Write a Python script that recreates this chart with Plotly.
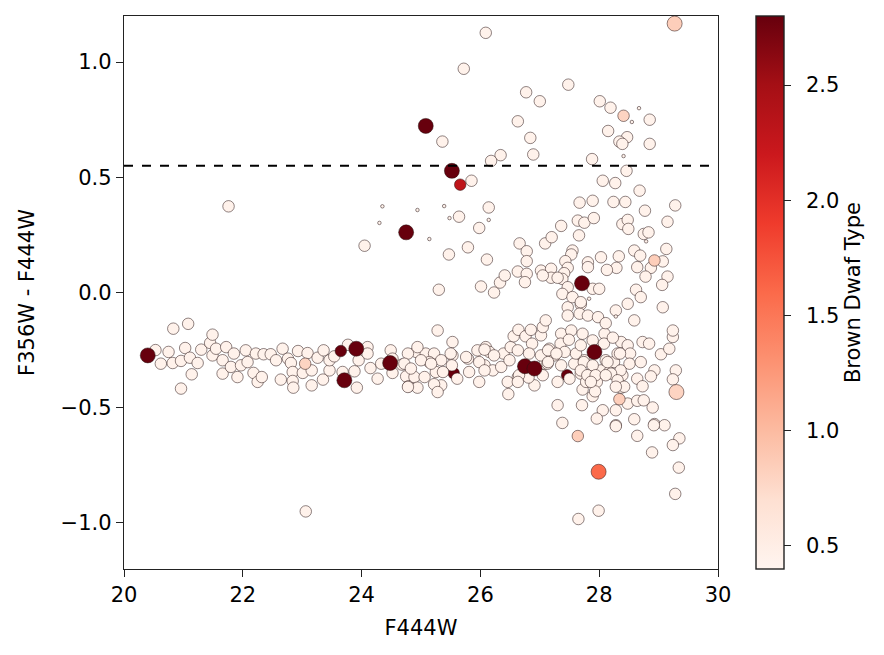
import plotly.graph_objects as go

# ordinary (pale) sources: F444W, F356W - F444W
pale_x = [
    20.83, 21.08, 20.53, 20.62, 20.75, 20.82, 20.96, 20.96, 21.03, 21.11, 21.14, 21.24, 21.30, 21.45,
    21.49, 21.49, 21.55, 21.66, 21.66, 21.72, 21.80, 21.85, 21.91, 21.97, 22.05, 22.08, 22.18, 22.25,
    22.32, 22.22, 22.35, 22.47, 22.56, 22.67, 22.64, 22.76, 22.81, 22.84, 22.84, 22.85, 22.93, 23.09,
    23.01, 23.16, 23.16, 23.26, 23.35, 23.36, 23.46, 23.46, 23.54, 23.77, 23.68, 23.88, 23.95, 23.92,
    24.10, 24.10, 24.15, 24.27, 24.33, 24.49, 24.52, 24.52, 24.68, 24.75, 24.79, 24.89, 24.92, 24.94,
    25.28, 25.53, 25.08, 25.22, 25.14, 25.34, 25.25, 25.06, 25.34, 25.53, 25.52, 25.61, 25.79, 25.81,
    25.95, 25.98, 26.07, 26.09, 26.15, 26.21, 26.35, 26.39, 26.49, 26.51, 26.56, 26.64, 26.63, 26.63,
    26.76, 26.85, 26.87, 26.82, 27.05, 26.91, 26.81, 26.47, 27.02, 27.05, 27.10, 27.08, 27.16, 27.25,
    27.36, 27.35, 27.42, 27.50, 27.53, 27.58, 27.61, 27.49, 27.72, 27.69, 27.75, 27.69, 27.72, 27.78,
    27.89, 27.89, 27.89, 27.96, 28.03, 28.09, 28.08, 28.11, 28.17, 28.25, 28.31, 28.37, 28.39, 28.37,
    28.48, 28.52, 28.51, 28.48, 28.64, 28.64, 28.59, 28.70, 28.73, 28.75, 28.73, 28.84, 28.93, 28.87,
    28.90, 29.04, 29.18, 29.24, 29.24, 29.29, 29.24, 29.07, 28.48, 28.28, 27.47, 27.47, 27.69, 27.67,
    27.81, 27.98, 28.11, 27.30, 27.38, 27.71, 28.06, 27.96, 28.28, 28.59, 28.28, 28.93, 29.10,
    24.94, 24.78, 25.00, 24.72, 24.83, 25.17, 25.37, 24.78, 25.22, 25.28, 25.50, 25.76, 26.07, 25.98,
    26.07, 26.23, 26.65, 26.46, 26.63, 27.02, 27.13, 27.30,
    27.14, 27.28, 28.23, 28.35, 27.14, 27.36, 27.74, 27.89, 28.14, 28.36, 28.20, 27.69, 27.80, 27.94,
    28.11, 28.31, 28.42, 27.93, 28.28, 27.86,
    25.85, 26.14, 25.64, 25.98, 25.47, 25.79, 26.11, 25.30, 26.01, 26.23, 26.33, 26.41, 26.63, 26.66,
    26.78, 26.78, 26.78, 26.75, 27.02, 27.09, 27.20, 27.36, 27.66, 27.64, 27.75, 27.91, 27.67, 27.89,
    28.06, 28.27, 28.46, 28.68, 28.24, 28.44, 28.77, 29.28, 29.15, 28.39, 28.48, 28.49, 28.75, 28.83,
    28.59, 28.69, 29.13, 29.07, 28.87, 28.64, 28.78, 29.15, 29.06, 28.62, 28.70, 28.03, 28.33, 28.29,
    28.13, 27.81, 27.81, 27.55, 27.53, 27.43, 27.47, 27.41, 27.38, 27.19, 27.19, 27.05, 27.30, 27.47,
    27.38, 27.55, 27.69, 27.89, 28.00,
    26.09, 25.72, 25.36, 26.77, 27.00, 27.48, 26.63, 26.84, 26.89, 26.34, 26.18, 27.88, 28.01, 28.19,
    28.85, 28.15, 28.47, 28.34, 28.39, 28.85,
    21.76, 24.05, 23.06, 27.99, 27.65, 28.28, 28.64, 28.92, 29.35, 29.24, 28.89, 29.34, 29.28,
]
pale_y = [
    -0.157, -0.136, -0.250, -0.309, -0.258, -0.306, -0.297, -0.417, -0.241, -0.283, -0.355, -0.306, -0.248, -0.219,
    -0.183, -0.273, -0.244, -0.294, -0.352, -0.237, -0.323, -0.265, -0.367, -0.316, -0.251, -0.302, -0.349, -0.388,
    -0.367, -0.265, -0.268, -0.268, -0.294, -0.244, -0.378, -0.287, -0.306, -0.345, -0.384, -0.413, -0.254, -0.263,
    -0.349, -0.338, -0.403, -0.283, -0.378, -0.251, -0.338, -0.294, -0.277, -0.227, -0.345, -0.342, -0.294, -0.413,
    -0.237, -0.265, -0.328, -0.374, -0.309, -0.251, -0.287, -0.349, -0.313, -0.364, -0.407, -0.367, -0.258, -0.413,
    -0.165, -0.215, -0.265, -0.265, -0.302, -0.294, -0.345, -0.367, -0.403, -0.273, -0.316, -0.374, -0.287, -0.345,
    -0.251, -0.388, -0.316, -0.237, -0.258, -0.338, -0.323, -0.265, -0.294, -0.237, -0.190, -0.162, -0.251, -0.367,
    -0.190, -0.162, -0.222, -0.265, -0.359, -0.403, -0.369, -0.441, -0.186, -0.150, -0.121, -0.309, -0.244, -0.273,
    -0.179, -0.222, -0.258, -0.374, -0.165, -0.309, -0.265, -0.205, -0.179, -0.229, -0.294, -0.352, -0.421, -0.388,
    -0.345, -0.208, -0.450, -0.388, -0.338, -0.179, -0.222, -0.294, -0.345, -0.302, -0.265, -0.215, -0.359, -0.413,
    -0.229, -0.265, -0.309, -0.482, -0.374, -0.470, -0.121, -0.302, -0.407, -0.468, -0.215, -0.222, -0.338, -0.364,
    -0.499, -0.268, -0.244, -0.193, -0.165, -0.338, -0.377, -0.064, -0.049, -0.078, -0.064, -0.100, -0.052, -0.092,
    -0.100, -0.107, -0.133, -0.489, -0.566, -0.489, -0.511, -0.547, -0.511, -0.550, -0.576, -0.571, -0.576,
    -0.237, -0.265, -0.294, -0.309, -0.330, -0.309, -0.345, -0.410, -0.398, -0.432, -0.265, -0.280, -0.248, -0.302,
    -0.338, -0.273, -0.359, -0.388, -0.388, -0.273, -0.309, -0.388,
    -0.251, -0.265, -0.196, -0.265, -0.302, -0.316, -0.302, -0.316, -0.302, -0.338, -0.352, -0.338, -0.359, -0.359,
    -0.359, -0.381, -0.409, -0.429, -0.409, -0.388,
    0.485, 0.369, 0.329, 0.280, 0.165, 0.196, 0.143, 0.012, 0.026, 0.000, 0.043, 0.074, 0.091, 0.213,
    0.179, 0.136, 0.081, 0.045, 0.095, 0.213, 0.240, 0.289, 0.248, 0.312, 0.303, 0.323, 0.390, 0.398,
    0.485, 0.475, 0.528, 0.442, 0.393, 0.393, 0.355, 0.378, 0.307, 0.297, 0.315, 0.276, 0.254, 0.261,
    0.182, 0.160, 0.189, 0.135, 0.107, 0.110, 0.069, 0.069, 0.033, 0.012, -0.020, 0.153, 0.157, 0.107,
    0.098, 0.131, 0.110, 0.182, 0.165, 0.136, 0.107, 0.084, 0.059, 0.103, 0.064, 0.074, 0.064, 0.023,
    -0.006, -0.020, -0.042, 0.016, 0.016,
    1.127, 0.971, 0.655, 0.869, 0.830, 0.902, 0.743, 0.671, 0.599, 0.596, 0.571, 0.579, 0.830, 0.802,
    0.750, 0.701, 0.674, 0.655, 0.645, 0.645,
    0.374, 0.203, -0.950, -0.947, -0.983, -0.580, -0.622, -0.576, -0.633, -0.662, -0.694, -0.760, -0.874,
]
pale_type = 0.45

# faint, very small detections
tiny_x = [28.67, 28.55, 28.41, 25.39, 25.48, 26.14, 25.14, 28.79, 27.83, 24.35, 24.30, 24.94, 28.28]
tiny_y = [0.80, 0.74, 0.592, 0.375, 0.323, 0.315, 0.232, 0.222, -0.027, 0.374, 0.302, 0.358, -0.104]

# brown dwarf candidates partly hidden under the others
under_x = [27.46, 25.55]
under_y = [-0.359, -0.350]
under_type = [2.8, 2.8]
under_big = [False, False]

# brown dwarf candidates drawn on top
bd_x = [20.40, 23.65, 23.91, 23.71, 24.48, 23.05, 26.75, 26.91, 27.92, 27.71, 25.08, 25.52, 25.66,
        24.75, 29.27, 28.41, 28.93, 29.30, 28.34, 27.64, 27.99]
bd_y = [-0.273, -0.254, -0.244, -0.381, -0.306, -0.309, -0.320, -0.330, -0.258, 0.040, 0.723, 0.528, 0.468,
        0.261, 1.167, 0.767, 0.139, -0.432, -0.463, -0.623, -0.778]
bd_type = [2.8, 2.8, 2.8, 2.8, 2.8, 0.8, 2.8, 2.8, 2.8, 2.8, 2.8, 2.8, 2.3,
           2.8, 0.85, 0.8, 0.85, 0.8, 0.85, 0.85, 1.6]
bd_big = [True, False, True, True, True, False, True, True, True, True, True, True, False,
          True, True, False, False, True, False, False, True]

cut = 0.55
cbar_ticks = [0.5, 1.0, 1.5, 2.0, 2.5]

reds = ["#fff5f0", "#fee0d2", "#fcbba1", "#fc9272", "#fb6a4a", "#ef3b2c", "#cb181d", "#a50f15", "#67000d"]
edge = dict(color="rgba(40,20,20,0.65)", width=0.8)
FS = 21


def sizes(flags):
    return [15 if f else 11.5 for f in flags]


def marks(x, y, size, color):
    return go.Scatter(x=x, y=y, mode="markers",
                      marker=dict(size=size, color=color, coloraxis="coloraxis", opacity=1, line=edge))


fig = go.Figure()
fig.add_trace(marks(under_x, under_y, sizes(under_big), under_type))
fig.add_trace(marks(pale_x, pale_y, 11.5, [pale_type] * len(pale_x)))
fig.add_trace(marks(tiny_x, tiny_y, 3.5, [pale_type] * len(tiny_x)))
fig.add_trace(marks(bd_x, bd_y, sizes(bd_big), bd_type))

fig.add_shape(type="line", xref="paper", x0=0, x1=1, y0=cut, y1=cut,
              line=dict(color="black", width=2.2, dash="dash"))

axis = dict(showline=True, mirror=True, linecolor="#222", linewidth=1.4, ticks="outside",
            ticklen=7, tickwidth=1.4, tickcolor="#222", showgrid=False, zeroline=False,
            tickfont=dict(size=FS, color="black"))

fig.update_layout(
    width=884, height=655,
    margin=dict(l=116, r=174, t=8, b=94),
    plot_bgcolor="white", paper_bgcolor="white",
    font=dict(family="DejaVu Sans", size=FS, color="black"),
    showlegend=False,
    xaxis=dict(axis, range=[20, 30], dtick=2, title=dict(text="F444W", font=dict(size=FS), standoff=13)),
    yaxis=dict(axis, range=[-1.2, 1.2], tickvals=[-1.0, -0.5, 0.0, 0.5, 1.0],
               ticktext=["\u22121.0", "\u22120.5", "0.0", "0.5", "1.0"],
               title=dict(text="F356W - F444W", font=dict(size=FS), standoff=20)),
    coloraxis=dict(
        cmin=0.4, cmax=2.8,
        colorscale=[[i / (len(reds) - 1), c] for i, c in enumerate(reds)],
        colorbar=dict(
            x=1.064, xanchor="left", xpad=0, y=0.5, yanchor="middle", ypad=0,
            len=1, lenmode="fraction", thickness=28,
            outlinewidth=1.4, outlinecolor="#222",
            ticks="outside", ticklen=7, tickwidth=1.4, tickcolor="#222",
            tickvals=cbar_ticks, ticktext=["\u2002%.1f" % t for t in cbar_ticks], tickfont=dict(size=FS),
            title=dict(text="Brown Dwaf Type", side="right", font=dict(size=FS)),
        ),
    ),
)

fig.write_html("out.html")
